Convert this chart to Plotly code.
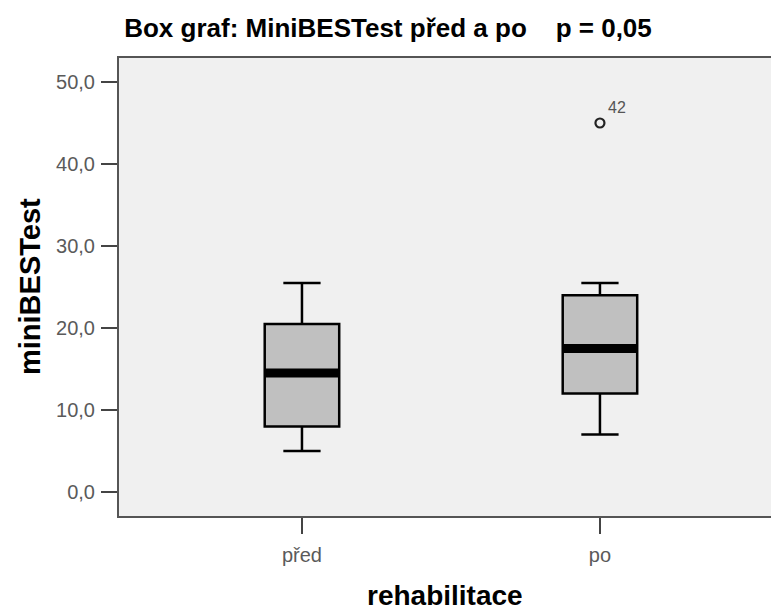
import plotly.graph_objects as go

# ---- data ----
categories = ["před", "po"]
lower_whisker = [5.0, 7.0]
q1_values = [8.0, 12.0]
median_values = [14.5, 17.5]
q3_values = [20.5, 24.0]
upper_whisker = [25.5, 25.5]
outlier_category = ["po"]
outlier_values = [45.0]
outlier_labels = ["42"]
y_tick_values = [0, 10, 20, 30, 40, 50]

title_text = "Box graf: MiniBESTest před a po\u00a0\u00a0\u00a0\u00a0p = 0,05"
y_title = "miniBESTest"
x_title = "rehabilitace"

# ---- style ----
FONT = "Liberation Sans, Arial, Helvetica, sans-serif"
BOX_W = 0.25
positions = list(range(len(categories)))

fig = go.Figure()

fig.add_trace(go.Box(
    x=positions,
    q1=q1_values,
    median=median_values,
    q3=q3_values,
    lowerfence=lower_whisker,
    upperfence=upper_whisker,
    width=BOX_W,
    whiskerwidth=0.5,
    fillcolor="#c0c0c0",
    line=dict(color="#000000", width=2.5),
    boxpoints=False,
    showlegend=False,
    hoverinfo="skip",
))

# thick median bars
mx, my = [], []
for p, m in zip(positions, median_values):
    mx += [p - BOX_W / 2, p + BOX_W / 2, None]
    my += [m, m, None]
fig.add_trace(go.Scatter(
    x=mx, y=my, mode="lines",
    line=dict(color="#000000", width=9),
    showlegend=False, hoverinfo="skip",
))

# outliers
ox = [categories.index(c) for c in outlier_category]
fig.add_trace(go.Scatter(
    x=ox, y=outlier_values, mode="markers",
    marker=dict(symbol="circle-open", size=9, color="#222222",
                line=dict(width=2.2, color="#222222")),
    showlegend=False, hoverinfo="skip",
))
for x, y, t in zip(ox, outlier_values, outlier_labels):
    fig.add_annotation(x=x, y=y, text=t, showarrow=False,
                       xshift=17, yshift=16,
                       font=dict(family=FONT, size=16, color="#555555"))

# axis titles
fig.add_annotation(xref="paper", yref="paper", x=0.5, y=-0.1735,
                   text="<b>" + x_title + "</b>", showarrow=False,
                   xanchor="center", yanchor="middle", height=22,
                   valign="middle",
                   font=dict(family=FONT, size=28, color="#000000"))
fig.add_annotation(xref="paper", yref="paper", x=-0.1365, y=0.5,
                   text="<b>" + y_title + "</b>", showarrow=False,
                   textangle=-90, xanchor="center", yanchor="middle",
                   font=dict(family=FONT, size=29, color="#000000"))

fig.update_layout(
    width=771, height=609,
    margin=dict(l=119, r=0, t=58, b=93),
    paper_bgcolor="#ffffff",
    plot_bgcolor="#f0f0f0",
    separators=",.",
    title=dict(text="<b>" + title_text + "</b>",
               x=388 / 771, xref="container", xanchor="center",
               y=1 - 28 / 609, yref="container", yanchor="middle",
               font=dict(family=FONT, size=26, color="#000000")),
    showlegend=False,
)

fig.update_xaxes(
    type="linear",
    range=[-0.614, 1.574],
    tickvals=positions, ticktext=categories,
    ticks="outside", ticklen=16, tickwidth=2, tickcolor="#444444",
    ticklabelstandoff=4,
    showline=True, linecolor="#555555", linewidth=2, mirror=True,
    showgrid=False, zeroline=False,
    tickfont=dict(family=FONT, size=20, color="#5a5a5a"),
)
fig.update_yaxes(
    range=[-2.93, 52.93],
    tickvals=y_tick_values, tickformat=".1f",
    ticks="outside", ticklen=16, tickwidth=2, tickcolor="#444444",
    ticklabelstandoff=2,
    showline=True, linecolor="#555555", linewidth=2,
    showgrid=False, zeroline=False,
    tickfont=dict(family=FONT, size=20, color="#5a5a5a"),
)

fig.write_html("out.html")
